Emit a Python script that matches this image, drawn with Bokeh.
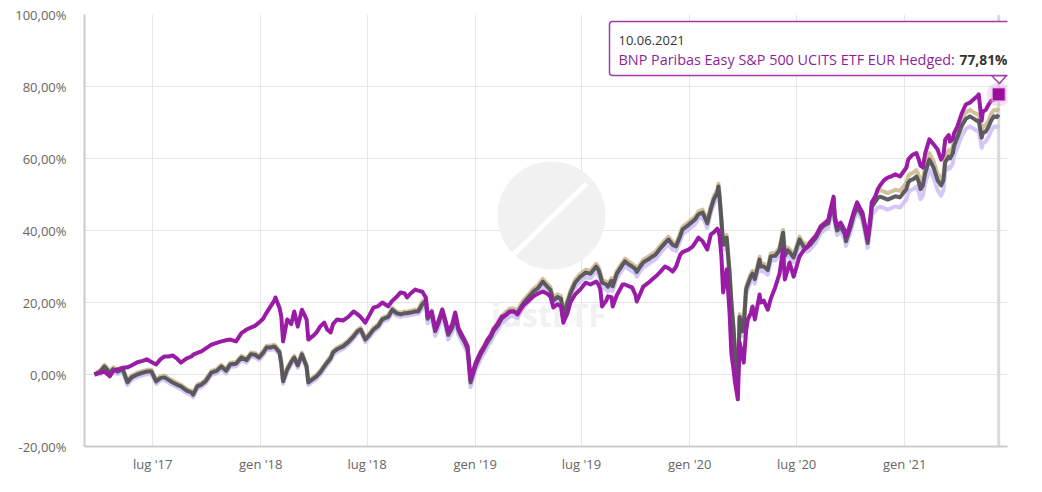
import pandas as pd
from bokeh.plotting import figure
from bokeh.models import (Range1d, FixedTicker, CustomJSTickFormatter, Label, Span,
                          ColumnDataSource)
from bokeh.core.properties import value
from bokeh.embed import file_html
from bokeh.resources import INLINE

# ---------------- data ----------------
dates = [
    "2017-03-24", "2017-04-03", "2017-04-10", "2017-04-19", "2017-04-25", "2017-05-02", "2017-05-11",
    "2017-05-19", "2017-05-26", "2017-06-05", "2017-06-14", "2017-06-21", "2017-06-29", "2017-07-07",
    "2017-07-14", "2017-07-21", "2017-07-28", "2017-08-04", "2017-08-11", "2017-08-18", "2017-08-28",
    "2017-09-05", "2017-09-08", "2017-09-15", "2017-09-22", "2017-09-29", "2017-10-09", "2017-10-18",
    "2017-10-26", "2017-11-03", "2017-11-10", "2017-11-20", "2017-11-29", "2017-12-08", "2017-12-15",
    "2017-12-22", "2017-12-29", "2018-01-05", "2018-01-11", "2018-01-18", "2018-01-24", "2018-01-26",
    "2018-02-02", "2018-02-05", "2018-02-08", "2018-02-15", "2018-02-22", "2018-02-27", "2018-03-05",
    "2018-03-12", "2018-03-20", "2018-03-23", "2018-04-02", "2018-04-06", "2018-04-12", "2018-04-19",
    "2018-04-24", "2018-04-30", "2018-05-04", "2018-05-11", "2018-05-21", "2018-05-30", "2018-06-08",
    "2018-06-15", "2018-06-20", "2018-06-28", "2018-07-05", "2018-07-12", "2018-07-20", "2018-07-27",
    "2018-08-06", "2018-08-13", "2018-08-20", "2018-08-27", "2018-09-03", "2018-09-07", "2018-09-13",
    "2018-09-21", "2018-09-26", "2018-10-03", "2018-10-09", "2018-10-12", "2018-10-19", "2018-10-25",
    "2018-10-30", "2018-11-06", "2018-11-12", "2018-11-16", "2018-11-23", "2018-11-28", "2018-12-03",
    "2018-12-07", "2018-12-14", "2018-12-19", "2018-12-21", "2018-12-24", "2019-01-02", "2019-01-10",
    "2019-01-17", "2019-01-22", "2019-01-28", "2019-02-01", "2019-02-08", "2019-02-15", "2019-02-22",
    "2019-03-01", "2019-03-08", "2019-03-14", "2019-03-19", "2019-03-25", "2019-04-02", "2019-04-10",
    "2019-04-18", "2019-04-26", "2019-05-03", "2019-05-09", "2019-05-14", "2019-05-21", "2019-05-27",
    "2019-05-31", "2019-06-07", "2019-06-12", "2019-06-20", "2019-06-28", "2019-07-08", "2019-07-16",
    "2019-07-26", "2019-07-30", "2019-08-02", "2019-08-05", "2019-08-12", "2019-08-15", "2019-08-21",
    "2019-08-23", "2019-08-30", "2019-09-09", "2019-09-13", "2019-09-20", "2019-09-25", "2019-10-01",
    "2019-10-03", "2019-10-09", "2019-10-14", "2019-10-23", "2019-10-30", "2019-11-04", "2019-11-12",
    "2019-11-20", "2019-11-26", "2019-12-03", "2019-12-09", "2019-12-16", "2019-12-20", "2019-12-30",
    "2020-01-06", "2020-01-10", "2020-01-16", "2020-01-23", "2020-01-31", "2020-02-06", "2020-02-11",
    "2020-02-17", "2020-02-19", "2020-02-21", "2020-02-24", "2020-02-27", "2020-03-04", "2020-03-09",
    "2020-03-12", "2020-03-16", "2020-03-18", "2020-03-23", "2020-03-26", "2020-03-31", "2020-04-02",
    "2020-04-06", "2020-04-09", "2020-04-14", "2020-04-17", "2020-04-21", "2020-04-29", "2020-05-01",
    "2020-05-06", "2020-05-13", "2020-05-18", "2020-05-26", "2020-06-02", "2020-06-08", "2020-06-11",
    "2020-06-16", "2020-06-19", "2020-06-26", "2020-07-01", "2020-07-06", "2020-07-13", "2020-07-20",
    "2020-07-24", "2020-08-03", "2020-08-11", "2020-08-18", "2020-08-24", "2020-08-28", "2020-09-02",
    "2020-09-04", "2020-09-08", "2020-09-14", "2020-09-21", "2020-09-23", "2020-09-28", "2020-10-01",
    "2020-10-06", "2020-10-12", "2020-10-16", "2020-10-21", "2020-10-26", "2020-10-30", "2020-11-04",
    "2020-11-06", "2020-11-12", "2020-11-16", "2020-11-20", "2020-11-27", "2020-12-03", "2020-12-09",
    "2020-12-16", "2020-12-24", "2021-01-04", "2021-01-07", "2021-01-11", "2021-01-15", "2021-01-21",
    "2021-01-25", "2021-01-28", "2021-02-01", "2021-02-05", "2021-02-12", "2021-02-19", "2021-02-26",
    "2021-03-04", "2021-03-08", "2021-03-11", "2021-03-17", "2021-03-19", "2021-03-24", "2021-03-26",
    "2021-04-01", "2021-04-08", "2021-04-15", "2021-04-22", "2021-04-29", "2021-05-04", "2021-05-07",
    "2021-05-12", "2021-05-14", "2021-05-19", "2021-05-24", "2021-05-28", "2021-06-02", "2021-06-07",
    "2021-06-10",
]

# BNP Paribas Easy S&P 500 UCITS ETF EUR Hedged (purple, highlighted)
bnp_hedged = [
    0.0, 0.5, 0.8, -0.5, 1.0, 1.4, 1.8, 2.0, 2.5, 3.4, 3.8, 4.2, 3.5, 2.8,
    4.2, 5.0, 5.0, 5.3, 4.5, 3.3, 4.5, 5.0, 5.5, 6.0, 6.4, 7.2, 8.3, 8.8,
    9.2, 9.5, 9.7, 9.2, 11.5, 12.5, 13.0, 13.5, 14.4, 15.5, 17.2, 19.0, 20.5, 21.4,
    18.5, 16.0, 9.2, 15.3, 14.0, 17.5, 13.3, 18.0, 15.3, 9.7, 11.0, 11.7, 13.3, 14.4,
    12.5, 11.7, 14.0, 15.3, 15.0, 16.0, 17.5, 16.7, 16.0, 14.4, 16.5, 18.6, 19.0, 20.0,
    18.9, 20.5, 21.5, 22.8, 22.5, 21.4, 22.5, 23.6, 23.3, 23.0, 21.4, 16.0, 17.5, 12.5,
    14.5, 18.0, 14.5, 11.7, 14.0, 17.2, 13.0, 11.7, 9.5, 7.8, 4.2, -1.4, 3.3, 6.1,
    8.0, 9.7, 11.0, 12.5, 14.0, 16.0, 16.5, 17.5, 17.5, 16.7, 18.0, 19.4, 20.5, 21.7,
    22.5, 23.0, 22.5, 21.7, 18.6, 19.5, 18.9, 14.4, 17.0, 20.0, 22.2, 23.5, 25.5, 25.0,
    25.8, 25.0, 23.6, 18.9, 20.5, 21.7, 21.5, 18.9, 22.0, 25.0, 25.0, 24.5, 24.2, 22.0,
    20.3, 22.5, 24.4, 25.5, 26.5, 27.2, 28.5, 30.0, 29.5, 28.6, 30.0, 33.3, 34.0, 34.7,
    35.5, 36.5, 38.0, 37.0, 34.7, 38.9, 39.5, 40.5, 40.0, 38.3, 33.0, 22.8, 29.2, 17.0,
    6.0, 1.0, -2.0, -6.9, 8.9, 5.0, 3.3, 12.0, 15.3, 17.0, 18.9, 15.3, 22.2, 20.0,
    20.5, 18.0, 21.0, 24.4, 28.0, 34.7, 26.4, 29.2, 31.1, 27.2, 30.0, 32.8, 34.5, 35.5,
    36.7, 38.5, 41.1, 42.0, 43.0, 46.0, 49.4, 44.0, 41.1, 42.2, 40.0, 38.3, 40.5, 42.2,
    45.0, 47.8, 46.5, 45.0, 41.0, 37.5, 44.0, 47.8, 49.5, 51.4, 52.5, 54.0, 54.7, 55.0,
    55.6, 55.0, 57.5, 59.7, 60.5, 61.1, 61.5, 59.7, 58.0, 57.5, 61.5, 65.3, 64.0, 62.5,
    59.7, 61.0, 65.3, 66.5, 64.7, 65.5, 67.0, 69.0, 72.5, 75.0, 75.5, 76.5, 77.2, 77.8,
    70.5, 73.0, 73.5, 75.0, 76.0, 76.4, 76.5, 77.81,
]

# comparison fund (dark grey)
fund_grey = [
    0.0, 0.8, 2.2, 0.5, 1.5, 0.8, 1.5, -2.2, -0.8, 0.0, 0.5, 0.8, 0.8, -1.9,
    -1.0, -0.8, -1.5, -2.2, -2.8, -3.3, -4.5, -5.0, -5.6, -3.3, -2.8, -1.9, 0.5, 1.0,
    2.2, 1.0, 2.8, 3.0, 4.7, 4.0, 5.6, 5.5, 4.7, 6.0, 7.5, 7.5, 7.8, 7.5,
    6.1, 3.0, -1.9, 1.4, 3.5, 4.7, 2.5, 5.6, 2.2, -2.2, -1.0, -0.5, 0.5, 2.2,
    3.3, 4.5, 6.1, 7.0, 7.8, 9.0, 10.6, 12.0, 12.5, 9.7, 11.0, 12.5, 13.5, 15.3,
    16.0, 18.0, 17.0, 16.7, 17.0, 17.0, 17.2, 17.5, 17.5, 19.5, 20.5, 15.5, 17.0, 12.0,
    14.0, 17.5, 14.0, 11.0, 13.0, 16.5, 12.5, 11.0, 9.0, 7.0, 3.5, -2.2, 2.5, 5.5,
    7.5, 9.0, 10.5, 12.0, 13.5, 15.5, 16.5, 17.5, 17.5, 17.0, 18.5, 20.0, 21.5, 23.0,
    24.0, 25.8, 24.5, 23.5, 20.5, 21.5, 21.0, 16.5, 20.0, 22.5, 25.5, 27.0, 28.3, 28.0,
    30.0, 29.0, 27.5, 25.5, 25.0, 24.4, 26.0, 24.5, 28.0, 30.5, 31.4, 30.5, 30.0, 29.2,
    28.5, 30.0, 31.1, 32.0, 32.8, 33.3, 35.0, 36.5, 37.5, 36.0, 35.6, 38.5, 40.3, 41.5,
    42.5, 43.0, 44.5, 45.0, 42.0, 46.0, 48.6, 50.5, 52.2, 49.2, 43.0, 36.0, 38.0, 28.0,
    20.0, 12.0, 6.0, -3.0, 16.0, 12.0, 13.3, 23.6, 25.0, 27.2, 28.0, 26.5, 31.9, 30.0,
    30.0, 29.0, 32.8, 33.0, 34.5, 39.4, 33.0, 34.5, 34.0, 32.5, 35.0, 37.5, 35.5, 35.5,
    36.0, 38.0, 40.5, 41.5, 42.0, 45.0, 48.0, 43.0, 40.0, 41.0, 39.0, 37.0, 39.5, 41.0,
    44.0, 46.5, 45.5, 44.0, 40.0, 36.5, 43.0, 46.5, 48.0, 49.0, 49.4, 49.0, 48.6, 49.0,
    49.5, 49.2, 51.5, 53.3, 54.0, 54.2, 55.0, 53.5, 51.5, 52.5, 56.0, 59.7, 57.5, 54.0,
    52.5, 54.0, 59.0, 60.5, 60.0, 61.5, 63.5, 66.0, 69.0, 71.0, 71.7, 71.0, 70.5, 70.5,
    65.8, 67.0, 67.5, 68.9, 70.5, 71.7, 71.5, 72.2,
]

# comparison fund (light tan, faint)
fund_tan = [
    0.0, 1.3, 2.7, 1.0, 2.0, 1.3, 2.0, -1.7, -0.3, 0.5, 1.0, 1.3, 1.3, -1.4,
    -0.5, -0.3, -1.0, -1.7, -2.3, -2.8, -4.0, -4.5, -5.1, -2.8, -2.3, -1.4, 1.0, 1.5,
    2.7, 1.5, 3.3, 3.5, 5.2, 4.5, 6.1, 6.0, 5.2, 6.5, 8.0, 8.0, 8.3, 8.0,
    6.6, 3.5, -1.4, 1.9, 4.0, 5.2, 3.0, 6.1, 2.7, -1.7, -0.5, 0.0, 1.0, 2.7,
    3.8, 5.0, 6.6, 7.5, 8.3, 9.5, 11.1, 12.5, 13.0, 10.2, 11.5, 13.0, 14.0, 15.8,
    16.5, 18.5, 17.5, 17.2, 17.5, 17.5, 17.7, 18.0, 18.0, 20.3, 21.3, 16.3, 17.8, 12.8,
    14.8, 18.3, 14.8, 11.8, 13.8, 17.3, 13.3, 11.8, 9.8, 7.8, 4.3, -1.4, 3.3, 6.3,
    8.3, 9.8, 11.3, 12.8, 14.3, 16.3, 17.3, 18.3, 18.3, 17.8, 19.3, 20.8, 22.3, 23.8,
    24.8, 26.6, 25.3, 24.3, 21.3, 22.3, 21.8, 17.3, 20.8, 23.3, 26.3, 27.8, 29.1, 28.8,
    30.8, 29.8, 28.3, 26.3, 25.8, 25.2, 26.8, 25.3, 28.8, 31.3, 32.2, 31.3, 30.8, 30.0,
    29.3, 30.8, 31.9, 32.8, 33.6, 34.1, 35.8, 37.3, 38.3, 36.8, 36.4, 39.3, 41.1, 42.3,
    43.3, 43.8, 45.3, 45.8, 42.8, 46.8, 49.4, 51.3, 53.0, 50.0, 43.8, 36.8, 38.8, 28.8,
    20.8, 12.8, 6.8, -2.2, 16.8, 12.8, 14.1, 24.4, 25.8, 28.0, 28.8, 27.3, 32.7, 30.8,
    30.8, 29.8, 33.6, 33.8, 35.3, 40.2, 33.8, 35.3, 34.8, 33.3, 35.8, 38.3, 36.3, 36.3,
    36.8, 38.8, 41.3, 42.3, 42.8, 45.8, 48.8, 43.8, 40.8, 41.8, 39.8, 37.8, 40.3, 41.8,
    44.8, 47.3, 46.3, 44.8, 40.8, 37.3, 44.0, 47.8, 49.5, 50.7, 51.2, 50.8, 50.4, 50.8,
    51.3, 51.0, 53.3, 55.1, 55.8, 56.0, 56.8, 55.3, 53.3, 54.3, 57.8, 61.5, 59.3, 55.8,
    54.3, 55.8, 60.8, 62.3, 61.8, 63.3, 65.3, 67.8, 70.8, 72.8, 73.5, 72.8, 72.3, 72.3,
    67.6, 68.8, 69.3, 70.7, 72.3, 73.5, 73.3, 74.0,
]

# comparison fund (lavender, faint)
fund_lavender = [
    0.0, 0.1, 1.5, -0.2, 0.8, 0.1, 0.8, -2.9, -1.5, -0.7, -0.2, 0.1, 0.1, -2.6,
    -1.7, -1.5, -2.2, -2.9, -3.5, -4.0, -5.2, -5.7, -6.3, -4.0, -3.5, -2.6, -0.2, 0.3,
    1.5, 0.3, 2.1, 2.3, 4.0, 3.3, 4.9, 4.8, 4.0, 5.3, 6.8, 6.8, 7.1, 6.8,
    5.4, 2.3, -2.6, 0.7, 2.8, 4.0, 1.8, 4.9, 1.5, -2.9, -1.7, -1.2, -0.2, 1.5,
    2.6, 3.8, 5.4, 6.3, 7.1, 8.3, 9.9, 11.3, 11.8, 9.0, 10.3, 11.8, 12.8, 14.6,
    15.3, 17.3, 16.3, 16.0, 16.3, 16.3, 16.5, 16.8, 16.8, 18.2, 19.2, 14.2, 15.7, 10.7,
    12.7, 16.2, 12.7, 9.7, 11.7, 15.2, 11.2, 9.7, 7.7, 5.7, 2.2, -3.5, 1.2, 4.2,
    6.2, 7.7, 9.2, 10.7, 12.2, 14.2, 15.2, 16.2, 16.2, 15.7, 17.2, 18.7, 20.2, 21.7,
    22.7, 24.5, 23.2, 22.2, 19.2, 20.2, 19.7, 15.2, 18.7, 21.2, 24.2, 25.7, 27.0, 26.7,
    28.7, 27.7, 26.2, 24.2, 23.7, 23.1, 24.7, 23.2, 26.7, 29.2, 30.1, 29.2, 28.7, 27.9,
    27.2, 28.7, 29.8, 30.7, 31.5, 32.0, 33.7, 35.2, 36.2, 34.7, 34.3, 37.2, 39.0, 40.2,
    41.2, 41.7, 43.2, 43.7, 40.7, 44.7, 47.3, 49.2, 50.9, 47.9, 41.7, 34.7, 36.7, 26.7,
    18.7, 10.7, 4.7, -4.3, 14.7, 10.7, 12.0, 22.3, 23.7, 25.9, 26.7, 25.2, 30.6, 28.7,
    28.7, 27.7, 31.5, 31.7, 33.2, 38.1, 31.7, 33.2, 32.7, 31.2, 33.7, 36.2, 34.2, 34.2,
    34.7, 36.7, 39.2, 40.2, 40.7, 43.7, 46.7, 41.7, 38.7, 39.7, 37.7, 35.7, 38.2, 39.7,
    42.7, 45.2, 44.2, 42.7, 38.7, 35.2, 41.0, 44.2, 45.5, 46.3, 46.6, 46.2, 45.8, 46.2,
    46.7, 46.4, 48.7, 50.5, 51.2, 51.4, 52.2, 50.7, 48.7, 49.7, 53.2, 56.9, 54.7, 51.2,
    49.7, 51.2, 56.2, 57.7, 57.2, 58.7, 60.7, 63.2, 66.2, 68.2, 68.9, 68.2, 67.7, 67.7,
    63.0, 64.2, 64.7, 66.1, 67.7, 68.9, 68.7, 69.4,
]

series_name = "BNP Paribas Easy S&P 500 UCITS ETF EUR Hedged"
x_tick_dates = ["2017-07-01", "2018-01-01", "2018-07-01", "2019-01-01", "2019-07-01",
                "2020-01-01", "2020-07-01", "2021-01-01"]
month_names = ["gen", "feb", "mar", "apr", "mag", "giu", "lug", "ago", "set", "ott", "nov", "dic"]
y_ticks = [-20, 0, 20, 40, 60, 80, 100]

# ---------------- figure ----------------
x_start = pd.Timestamp("2017-03-07")
x_end = pd.Timestamp("2021-06-25")
FRAME_W, FRAME_H = 923, 432
LEFT, TOP = 84, 15  # page pixel position of the plot frame (reference)

p = figure(width=1034, height=483, x_axis_type="datetime",
           x_range=Range1d(x_start, x_end), y_range=Range1d(-20, 100),
           output_backend="svg", toolbar_location=None,
           min_border_left=84, min_border_right=27, min_border_top=14, min_border_bottom=37)
p.outline_line_color = None
p.background_fill_color = "white"
p.border_fill_color = "white"

start_ms = x_start.timestamp() * 1000
ms_per_px = (x_end - x_start).total_seconds() * 1000 / FRAME_W


def px_x(px):
    return start_ms + (px - LEFT) * ms_per_px


def px_y(py):
    return 100 - (py - TOP) * 120 / FRAME_H


# axes
tick_ms = [pd.Timestamp(d).timestamp() * 1000 for d in x_tick_dates]
p.xaxis.ticker = FixedTicker(ticks=tick_ms)
p.xaxis.formatter = CustomJSTickFormatter(args=dict(names=month_names), code="""
    const d = new Date(tick);
    const y = String(d.getUTCFullYear() % 100).padStart(2, '0');
    return names[d.getUTCMonth()] + " '" + y;
""")
p.yaxis.ticker = FixedTicker(ticks=y_ticks)
p.yaxis.formatter = CustomJSTickFormatter(code="return tick.toFixed(2).replace('.', ',') + '%';")
for ax in (p.xaxis[0], p.yaxis[0]):
    ax.axis_line_color = "#cccccc"
    ax.axis_line_width = 2
    ax.major_tick_line_color = None
    ax.minor_tick_line_color = None
    ax.major_tick_out = 0
    ax.major_tick_in = 0
    ax.minor_tick_out = 0
    ax.major_label_text_font = "Open Sans"
    ax.major_label_text_font_size = "13px"
    ax.major_label_text_color = "#666666"
p.yaxis.major_label_standoff = 18
p.xaxis.major_label_standoff = 8

p.xgrid.ticker = FixedTicker(ticks=tick_ms)
p.xgrid.grid_line_color = "#e6e6e6"
p.ygrid.grid_line_color = "#e6e6e6"

# watermark (below series, above grid)
p.scatter([px_x(551)], [px_y(216)], size=108, marker="circle",
          fill_color="#f1f1f1", line_color=None)
p.segment([px_x(510)], [px_y(258)], [px_x(586)], [px_y(184)],
          line_color="white", line_width=5)
p.text([px_x(548)], [px_y(315)], text=["justETF"], text_font=value("Open Sans"),
       text_font_style="bold", text_font_size="32px", text_color="#f1f1f1",
       text_align="center", text_baseline="middle")

# crosshair at the hovered date
last_date = pd.Timestamp(dates[-1])
last_val = bnp_hedged[-1]
p.add_layout(Span(location=last_date.timestamp() * 1000, dimension="height",
                  line_color="#d9d9d9", line_width=3, level="underlay"))

src = ColumnDataSource(dict(date=pd.to_datetime(dates), bnp=bnp_hedged, grey=fund_grey,
                            tan=fund_tan, lav=fund_lavender))
p.line("date", "lav", source=src, line_color="#c9b8f5", line_width=4, line_alpha=0.8,
       line_join="round")
p.line("date", "tan", source=src, line_color="#c8b283", line_width=4, line_alpha=0.8,
       line_join="round")
p.line("date", "grey", source=src, line_color="#4f4f57", line_width=4, line_alpha=0.92,
       line_join="round")
p.line("date", "bnp", source=src, line_color="#9a1ba5", line_width=4, line_join="round")

# hover marker
p.scatter([last_date], [last_val], size=24, marker="circle", fill_color="#dfa6e2",
          fill_alpha=0.35, line_color=None)
p.scatter([last_date], [last_val], size=13, marker="square", fill_color="#9c0d9c",
          line_color="#e3b6e5", line_width=1)

# tooltip pointer (inside frame)
p.patch([px_x(991), px_x(1006), px_x(999)], [px_y(76), px_y(76), px_y(84)],
        fill_color="white", line_color="#a33aab", line_width=1.5)
# tooltip box: the date label carries the box as its padded background,
# anchored at the box's top-left corner
p.add_layout(Label(x=px_x(609), y=px_y(22), text=last_date.strftime("%d.%m.%Y"),
                   text_font="Open Sans", text_font_size="13px", text_color="#333333",
                   text_align="left", text_baseline="top",
                   background_fill_color="white", background_fill_alpha=1.0,
                   border_line_color="#a33aab", border_line_width=1.5, border_radius=3,
                   padding=dict(left=9, right=333, top=14, bottom=31)))
p.add_layout(Label(x=px_x(618), y=px_y(60), text=series_name + ":",
                   text_font="Open Sans", text_font_size="14.4px", text_color="#8e1f98",
                   text_baseline="middle"))
p.add_layout(Label(x=px_x(1007), y=px_y(60), text=f"{last_val:.2f}".replace(".", ",") + "%",
                   text_font="Open Sans", text_font_size="13.8px", text_font_style="bold",
                   text_color="#333333", text_align="right", text_baseline="middle"))

open("out.html", "w").write(file_html(p, INLINE))
